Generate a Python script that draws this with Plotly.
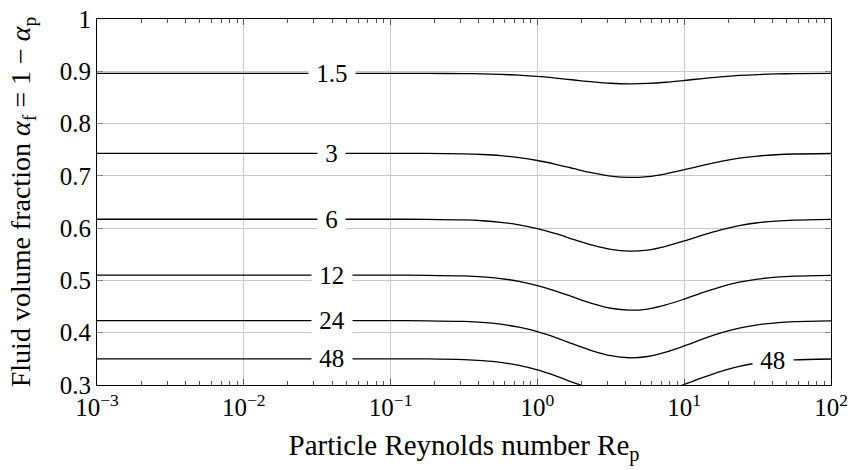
import plotly.graph_objects as go

# log10(Re_p) sample positions
log_re = [-3, -1.5, -1, -0.75, -0.5, -0.375, -0.25, -0.125, 0, 0.125, 0.25, 0.375, 0.5, 0.625,
          0.75, 0.875, 1, 1.125, 1.25, 1.375, 1.5, 1.625, 1.75, 2]
re = [10 ** v for v in log_re]

levels = ["1.5", "3", "6", "12", "24", "48"]
alpha_15 = [0.896, 0.896, 0.896, 0.8959, 0.8956, 0.8951, 0.8941, 0.8925, 0.8901, 0.8869, 0.8833, 0.8798,
            0.8771, 0.8760, 0.8767, 0.8790, 0.8824, 0.8861, 0.8894, 0.8920, 0.8938, 0.8949, 0.8955, 0.8959]
alpha_3 = [0.743, 0.743, 0.743, 0.7429, 0.7420, 0.7408, 0.7386, 0.7349, 0.7294, 0.7221, 0.7137, 0.7057,
           0.6996, 0.6970, 0.6986, 0.7040, 0.7117, 0.7201, 0.7278, 0.7338, 0.7379, 0.7404, 0.7418, 0.7428]
alpha_6 = [0.617, 0.617, 0.617, 0.6168, 0.6157, 0.6141, 0.6112, 0.6063, 0.5990, 0.5893, 0.5782, 0.5675,
           0.5595, 0.5561, 0.5581, 0.5653, 0.5755, 0.5867, 0.5969, 0.6048, 0.6103, 0.6136, 0.6154, 0.6168]
alpha_12 = [0.510, 0.510, 0.510, 0.5098, 0.5086, 0.5069, 0.5036, 0.4983, 0.4902, 0.4796, 0.4674, 0.4557,
            0.4468, 0.4431, 0.4453, 0.4532, 0.4644, 0.4767, 0.4879, 0.4966, 0.5026, 0.5062, 0.5083, 0.5097]
alpha_24 = [0.423, 0.423, 0.423, 0.4228, 0.4215, 0.4197, 0.4163, 0.4106, 0.4021, 0.3908, 0.3778, 0.3654,
            0.3560, 0.3521, 0.3545, 0.3628, 0.3747, 0.3877, 0.3996, 0.4088, 0.4152, 0.4190, 0.4212, 0.4227]
alpha_48 = [0.350, 0.350, 0.350, 0.3498, 0.3485, 0.3466, 0.3432, 0.3374, 0.3288, 0.3173, 0.3042, 0.2916,
            0.2821, 0.2781, 0.2805, 0.2889, 0.3010, 0.3142, 0.3262, 0.3356, 0.3421, 0.3460, 0.3481, 0.3497]
series = [alpha_15, alpha_3, alpha_6, alpha_12, alpha_24, alpha_48]

label_log_re = -1.40
label_log_re_right = 1.605
label_48_right_y = 0.346

FONT = "Liberation Serif"
FS = 25
TFS = 28

fig = go.Figure()
for s in series:
    fig.add_trace(go.Scatter(x=re, y=s, mode="lines",
                             line=dict(color="black", width=1.3, shape="spline", smoothing=0.8),
                             showlegend=False, hoverinfo="skip"))

nb = "\u00a0"
for lab, s in zip(levels, series):
    fig.add_annotation(x=label_log_re, y=s[0], xref="x", yref="y", text=nb + lab + nb,
                       showarrow=False, bgcolor="white", borderpad=1,
                       font=dict(family=FONT, size=FS, color="black"))
fig.add_annotation(x=label_log_re_right, y=label_48_right_y, xref="x", yref="y", text=nb + "48" + nb,
                   showarrow=False, bgcolor="white", borderpad=1,
                   font=dict(family=FONT, size=FS, color="black"))

xt = [1e-3, 1e-2, 1e-1, 1e0, 1e1, 1e2]
xtt = ["10<sup>−3</sup>", "10<sup>−2</sup>", "10<sup>−1</sup>", "10<sup>0</sup>", "10<sup>1</sup>", "10<sup>2</sup>"]

fig.update_layout(
    width=851, height=470,
    margin=dict(l=97, r=20, t=19, b=85),
    paper_bgcolor="white", plot_bgcolor="white",
    font=dict(family=FONT, size=FS, color="black"),
)
fig.update_xaxes(type="log", range=[-3, 2], tickvals=xt, ticktext=xtt, automargin=False,
                 showgrid=True, gridcolor="#c8c8c8", gridwidth=1,
                 showline=True, linecolor="black", linewidth=1, mirror="ticks",
                 ticks="inside", ticklen=6, tickcolor="#555",
                 minor=dict(ticks="inside", ticklen=4, tickcolor="#555", dtick="D1", showgrid=False),
                 zeroline=False,
                 title=dict(text="Particle Reynolds number Re<sub>p</sub>", standoff=14, font=dict(size=29)),
                 tickfont=dict(size=FS))
fig.update_yaxes(range=[0.3, 1.0], dtick=0.1, tick0=0.3, automargin=False,
                 showgrid=True, gridcolor="#c8c8c8", gridwidth=1,
                 showline=True, linecolor="black", linewidth=1, mirror="ticks",
                 ticks="inside", ticklen=6, tickcolor="#888",
                 zeroline=False,
                 title=dict(text="Fluid volume fraction <i>α</i><sub>f</sub> = 1 − <i>α</i><sub>p</sub>", standoff=20, font=dict(size=TFS)),
                 tickfont=dict(size=FS))

fig.write_html("out.html", config={"displayModeBar": False},
               post_script="document.body.style.margin='0';document.body.style.overflow='hidden';")
